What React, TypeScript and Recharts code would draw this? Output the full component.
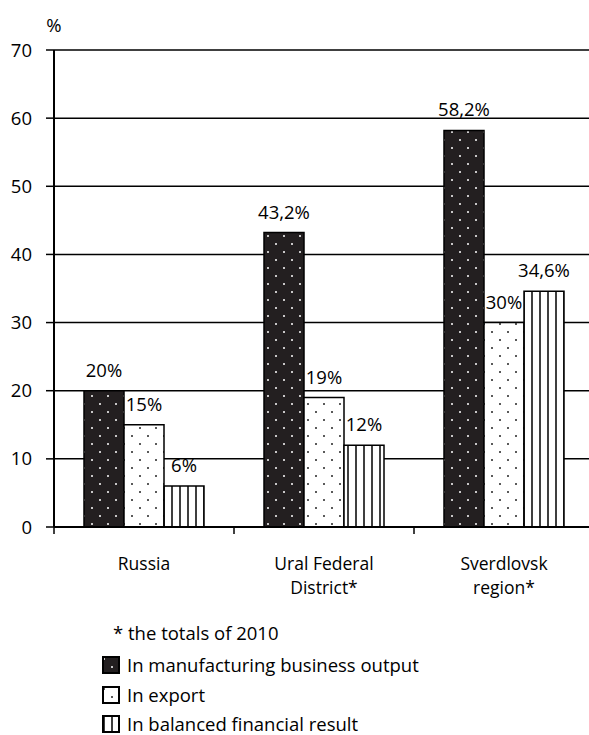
import React from 'react';
import { BarChart, Bar, XAxis, YAxis, CartesianGrid, LabelList, Legend } from 'recharts';

const categories = ['Russia', 'Ural Federal District*', 'Sverdlovsk region*'];
const categoryLines = [['Russia'], ['Ural Federal', 'District*'], ['Sverdlovsk', 'region*']];
const manufacturing = [20, 43.2, 58.2];
const exportShare = [15, 19, 30];
const financialResult = [6, 12, 34.6];
const yTicks = [0, 10, 20, 30, 40, 50, 60, 70];
const footnote = '* the totals of 2010';
const seriesNames = ['In manufacturing business output', 'In export', 'In balanced financial result'];
const seriesKeys = ['manufacturing', 'export', 'financial'];
const seriesFills = ['url(#patDark)', 'url(#patDots)', 'url(#patStripes)'];
const legendFills = ['url(#lgDark)', 'url(#lgDots)', 'url(#lgStripes)'];

const data = categories.map((name, i) => ({
  name,
  lines: categoryLines[i],
  manufacturing: manufacturing[i],
  export: exportShare[i],
  financial: financialResult[i],
}));

const FONT = '"Open Sans", sans-serif';
const FS = 18.5;
const fmt = (v: any) => String(v).replace('.', ',') + '%';

const Patterns = ({ prefix }: { prefix: string }) => (
  <>
    <pattern id={prefix + 'Dark'} patternUnits="userSpaceOnUse" width="16" height="16">
      <rect width="16" height="16" fill="#231f20" />
      <circle cx="4" cy="4" r="1" fill="#fff" />
      <circle cx="12" cy="12" r="1" fill="#fff" />
    </pattern>
    <pattern id={prefix + 'Dots'} patternUnits="userSpaceOnUse" width="16" height="16">
      <rect width="16" height="16" fill="#fff" />
      <circle cx="4" cy="4" r="1" fill="#222" />
      <circle cx="12" cy="12" r="1" fill="#222" />
    </pattern>
    <pattern id={prefix + 'Stripes'} patternUnits="userSpaceOnUse" width="8" height="8">
      <rect width="8" height="8" fill="#fff" />
      <rect x="3.25" y="0" width="1.5" height="8" fill="#000" />
    </pattern>
  </>
);

const XTick = (props: any) => {
  const { x, y, index } = props;
  const lines = categoryLines[index] || [];
  return (
    <g>
      <line x1={x - 90} x2={x - 90} y1={y} y2={y + 7} stroke="#000" strokeWidth={1.5} />
      <text x={x} y={y + 43} textAnchor="middle" fontSize={17.5} fill="#000" fontFamily={FONT}>
        {lines.map((t: string, i: number) => (
          <tspan key={i} x={x} dy={i === 0 ? 0 : 24}>
            {t}
          </tspan>
        ))}
      </text>
    </g>
  );
};

const renderLegend = () => (
  <div style={{ position: 'relative', fontFamily: FONT, fontSize: FS, color: '#000', width: 400, height: 112 }}>
    <div style={{ position: 'absolute', left: 13, top: 4, lineHeight: '18px', whiteSpace: 'nowrap' }}>{footnote}</div>
    {seriesNames.map((n, i) => (
      <div key={n} style={{ position: 'absolute', left: 0, top: 36 + i * 29.5, height: 18, display: 'flex', alignItems: 'center', whiteSpace: 'nowrap' }}>
        <svg width={22} height={20} style={{ display: 'block' }}>
          {i === 0 ? (
            <defs>
              <Patterns prefix="lg" />
            </defs>
          ) : null}
          <rect x={3} y={2} width={16} height={16} fill={legendFills[i]} stroke="#000" strokeWidth={2} />
        </svg>
        <span style={{ marginLeft: 5, lineHeight: '18px' }}>{n}</span>
      </div>
    ))}
  </div>
);

const PercentLabel = (props: any) => {
  const { viewBox } = props;
  return (
    <text x={viewBox.x + viewBox.width} y={viewBox.y - 18} textAnchor="middle" fontSize={FS} fill="#000" fontFamily={FONT}>
      %
    </text>
  );
};

export default function App() {
  return (
    <div style={{ position: 'fixed', left: 0, top: 0, width: 589, height: 735, overflow: 'hidden', background: '#fff', fontFamily: FONT }}>
      <BarChart
        width={600}
        height={735}
        data={data}
        margin={{ top: 50, right: 6, bottom: 148, left: 4 }}
        barCategoryGap={30}
        barGap={0}
        style={{ fontFamily: FONT }}
      >
        <defs>
          <Patterns prefix="pat" />
        </defs>
        <CartesianGrid vertical={false} stroke="#000" strokeWidth={1.5} />
        <XAxis
          dataKey="name"
          interval={0}
          tickLine={false}
          tickSize={0}
          tickMargin={0}
          height={60}
          axisLine={{ stroke: '#000', strokeWidth: 2 }}
          tick={<XTick />}
        />
        <YAxis
          width={50}
          domain={[0, 70]}
          ticks={yTicks}
          interval={0}
          tickSize={8}
          tickMargin={14}
          axisLine={{ stroke: '#000', strokeWidth: 2 }}
          tickLine={{ stroke: '#000', strokeWidth: 1.5 }}
          tick={{ fill: '#000', fontSize: FS, fontFamily: FONT }}
          label={<PercentLabel />}
        />
        <Legend
          layout="vertical"
          align="center"
          verticalAlign="middle"
          wrapperStyle={{ top: 620, left: 100, width: 400, height: 112 }}
          content={renderLegend}
        />
        {seriesKeys.map((k, i) => (
          <Bar key={k} dataKey={k} name={seriesNames[i]} fill={seriesFills[i]} stroke="#000" strokeWidth={1.5} isAnimationActive={false}>
            <LabelList dataKey={k} position="top" offset={14} fill="#000" fontSize={FS} fontFamily={FONT} formatter={fmt} />
          </Bar>
        ))}
      </BarChart>
    </div>
  );
}
